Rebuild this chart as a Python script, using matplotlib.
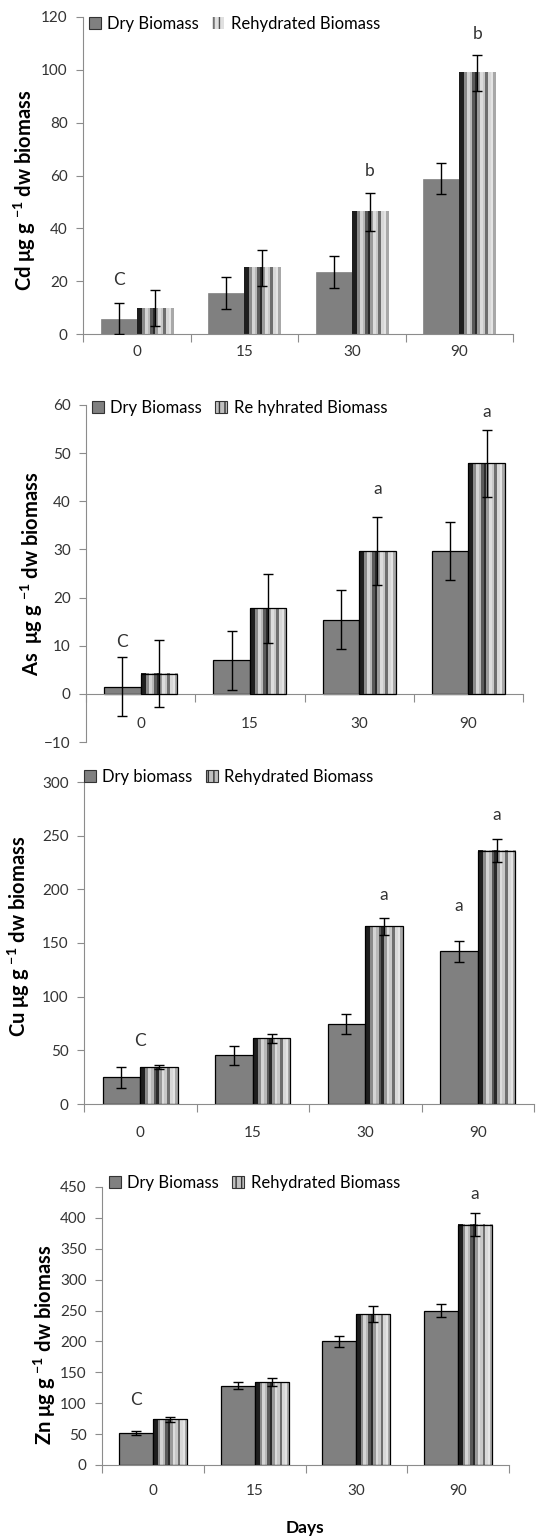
import numpy as np
import matplotlib
matplotlib.use('Agg')
import matplotlib.pyplot as plt
from matplotlib.patches import Patch

plt.rcParams['font.family'] = ['Lato', 'DejaVu Sans']
plt.rcParams['mathtext.default'] = 'regular'

days = ['0', '15', '30', '90']

# Cd
cd_dry = [5.8, 15.6, 23.5, 58.8]
cd_dry_err = [5.9, 6.0, 5.9, 5.9]
cd_reh = [9.8, 25.1, 46.3, 98.9]
cd_reh_err = [6.9, 6.8, 7.2, 6.8]
cd_letters = [(0, -1, 20.6, 'C'), (2, 1, 61.6, 'b'), (3, 1, 113.7, 'b')]

# As
as_dry = [1.5, 7.0, 15.4, 29.7]
as_dry_err = [6.1, 6.1, 6.1, 6.0]
as_reh = [4.2, 17.8, 29.7, 47.9]
as_reh_err = [7.0, 7.2, 7.0, 7.0]
as_letters = [(0, -1, 10.8, 'C'), (2, 1, 42.6, 'a'), (3, 1, 58.6, 'a')]

# Cu
cu_dry = [24.8, 45.3, 74.5, 142.4]
cu_dry_err = [9.8, 9.0, 9.5, 9.8]
cu_reh = [34.4, 61.1, 165.4, 236.1]
cu_reh_err = [1.8, 4.0, 8.0, 10.6]
cu_letters = [(0, 0, 58.6, 'C'), (2, 1, 195, 'a'), (3, -1, 184.6, 'a'), (3, 1, 269, 'a')]

# Zn
zn_dry = [52.3, 128.3, 200.0, 250.0]
zn_dry_err = [3.5, 5.5, 9.0, 11.0]
zn_reh = [73.8, 134.2, 244.1, 389.1]
zn_reh_err = [4.5, 7.0, 13.0, 19.0]
zn_letters = [(0, -1, 105, 'C'), (3, 1, 439, 'a')]

W, H = 547, 1537
fig = plt.figure(figsize=(W / 100, H / 100), dpi=100)

# vertical stripe fill of the rehydrated bars
stripe_cols = ['#1e1e1e', '#1e1e1e', '#8a8a8a', '#d4d4d4', '#b8b8b8', '#5a5a5a',
               '#2a2a2a', '#9a9a9a', '#dcdcdc', '#c8c8c8', '#6e6e6e', '#d8d8d8',
               '#e4e4e4', '#a8a8a8']
stripe = np.array([matplotlib.colors.to_rgb(c) for c in stripe_cols])[np.newaxis, :, :]

gray = '#8c8c8c'
bw = 0.335


def panel(box, ylim, ystep, dry, dry_err, reh, reh_err, letters, ylabel, lab_xy,
          leg_labels, leg_xy, edge, xpad):
    left, right, top, bottom = box
    ax = fig.add_axes([left / W, 1 - bottom / H, (right - left) / W, (bottom - top) / H])
    x = np.arange(len(days)) + 0.5
    ec = 'black' if edge else '#707070'
    lw = 0.9 if edge else 0.4
    ax.bar(x - bw / 2, dry, bw, color='#808080', edgecolor=ec, linewidth=lw, zorder=2)
    reh_bars = ax.bar(x + bw / 2, reh, bw, color='none',
                      edgecolor='black' if edge else 'none', linewidth=lw, zorder=3)
    for b in reh_bars:
        ax.imshow(stripe, extent=[b.get_x(), b.get_x() + b.get_width(), 0, b.get_height()],
                  aspect='auto', interpolation='nearest', zorder=2.5)
    ax.errorbar(x - bw / 2, dry, yerr=dry_err, fmt='none', ecolor='black',
                elinewidth=1, capsize=3.5, capthick=1, zorder=4)
    ax.errorbar(x + bw / 2, reh, yerr=reh_err, fmt='none', ecolor='black',
                elinewidth=1, capsize=3.5, capthick=1, zorder=4)
    for cat, side, yv, t in letters:
        ax.text(cat + 0.5 + side * bw / 2, yv, t, ha='center', va='center',
                fontsize=12.5, color='#333333')

    ax.set_xlim(0, len(days))
    ax.set_ylim(*ylim)
    ax.set_yticks(np.arange(ylim[0], ylim[1] + ystep / 2, ystep))
    ax.set_xticks(np.arange(len(days) + 1))
    ax.set_xticklabels([])
    ax.set_xticks(x, minor=True)
    ax.set_xticklabels(days, minor=True)
    ax.tick_params(axis='x', which='major', length=6, color=gray, direction='out')
    ax.tick_params(axis='x', which='minor', length=0, pad=xpad - 1, labelsize=11,
                   labelcolor='#333333')
    ax.tick_params(axis='y', length=5, color=gray, direction='out', pad=6,
                   labelsize=11, labelcolor='#333333')
    for s in ['top', 'right']:
        ax.spines[s].set_visible(False)
    for s in ['left', 'bottom']:
        ax.spines[s].set_color(gray)
    ax.spines['bottom'].set_position(('data', 0))

    fig.text(lab_xy[0] / W, 1 - lab_xy[1] / H, ylabel, rotation=90, ha='center',
             va='center', fontsize=14.5, fontweight='bold')

    if edge:
        reh_handle = Patch(facecolor='#c0c0c0', edgecolor='#333333', linewidth=0.8,
                           hatch='|||')
    else:
        reh_handle = Patch(facecolor='#e0e0e0', edgecolor='#555555', linewidth=0,
                           hatch='|||')
    handles = [Patch(facecolor='#808080', edgecolor='#333333', linewidth=0.8),
               reh_handle]
    fig.legend(handles, leg_labels, loc='center left', ncol=2, frameon=False,
               bbox_to_anchor=(leg_xy[0] / W, 1 - leg_xy[1] / H),
               bbox_transform=fig.transFigure, borderpad=0, borderaxespad=0,
               handlelength=0.7, handleheight=0.7, handletextpad=0.4,
               columnspacing=0.8, fontsize=12)
    return ax


panel((83, 513, 17, 334), (0, 120), 20, cd_dry, cd_dry_err, cd_reh, cd_reh_err,
      cd_letters, r'Cd μg g $^{-1}$ dw biomass', (25, 190),
      ['Dry Biomass', 'Rehydrated Biomass'], (89, 24), False, 9)

panel((86, 523, 405, 742), (-10, 60), 10, as_dry, as_dry_err, as_reh, as_reh_err,
      as_letters, r'As  μg g $^{-1}$ dw biomass', (32, 574),
      ['Dry Biomass', 'Re hyhrated Biomass'], (92, 408), True, 18)

panel((84, 534, 782, 1104), (0, 300), 50, cu_dry, cu_dry_err, cu_reh, cu_reh_err,
      cu_letters, r'Cu μg g $^{-1}$ dw biomass', (19, 936),
      ['Dry biomass', 'Rehydrated Biomass'], (84, 777), True, 17)

panel((102, 509, 1187, 1465), (0, 450), 50, zn_dry, zn_dry_err, zn_reh, zn_reh_err,
      zn_letters, r'Zn μg g $^{-1}$ dw biomass', (45, 1345),
      ['Dry Biomass', 'Rehydrated Biomass'], (109, 1183), True, 15)

fig.text(305 / W, 1 - 1528 / H, 'Days', ha='center', va='center', fontsize=12.5,
         fontweight='bold')

fig.savefig('out.png', dpi=100)
